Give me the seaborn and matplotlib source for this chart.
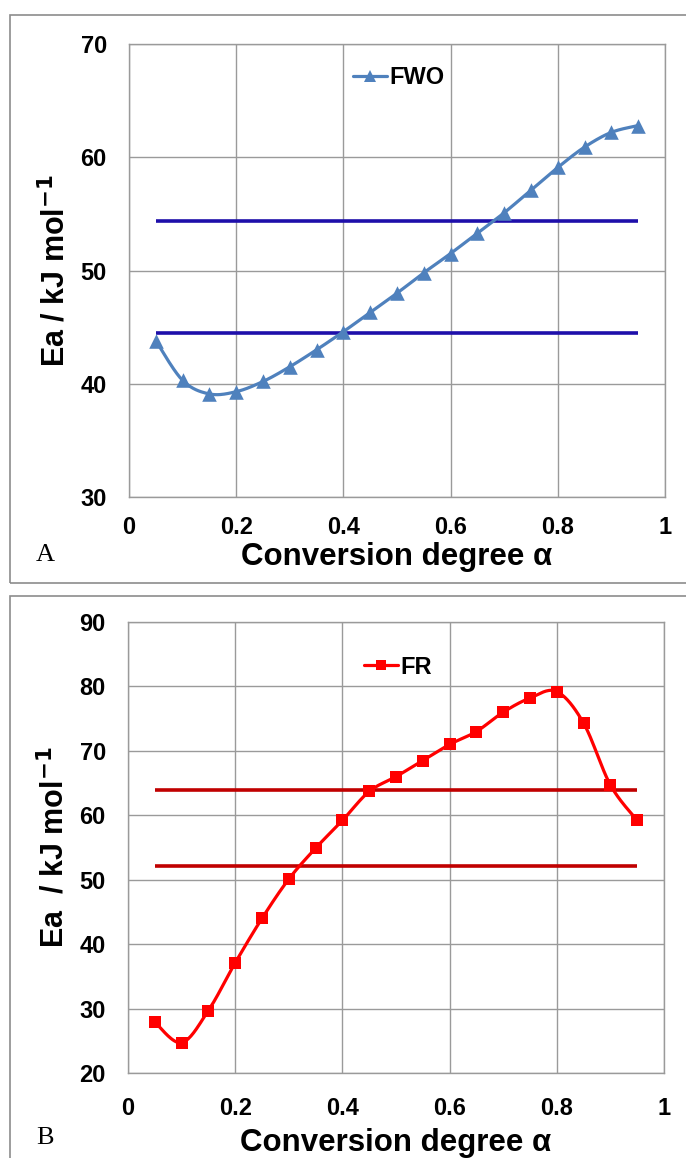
import numpy as np
import pandas as pd
import seaborn as sns
import matplotlib.pyplot as plt
from matplotlib.lines import Line2D
from matplotlib.patches import Rectangle

# conversion degree
alpha = [0.05, 0.10, 0.15, 0.20, 0.25, 0.30, 0.35, 0.40, 0.45, 0.50,
         0.55, 0.60, 0.65, 0.70, 0.75, 0.80, 0.85, 0.90, 0.95]

# activation energies, kJ/mol
ea_fwo = [43.8, 40.3, 39.1, 39.3, 40.2, 41.5, 43.0, 44.6, 46.3, 48.0,
          49.8, 51.5, 53.3, 55.1, 57.1, 59.1, 60.9, 62.2, 62.8]
ea_fr = [27.9, 24.7, 29.7, 37.1, 44.0, 50.1, 54.9, 59.2, 63.7, 66.0,
         68.5, 71.0, 73.0, 76.0, 78.2, 79.2, 74.3, 64.7, 59.2]

# horizontal reference levels
fwo_levels = [54.4, 44.5]
fr_levels = [63.9, 52.2]

x_ticks = [0, 0.2, 0.4, 0.6, 0.8, 1]
x_ticklabels = ["0", "0.2", "0.4", "0.6", "0.8", "1"]


def smooth(x, y, n=20):
    # excel-like smoothed line (catmull-rom through the points)
    p = np.column_stack([x, y])
    p = np.vstack([p[0], p, p[-1]])
    out = []
    t = np.linspace(0, 1, n, endpoint=False)[:, None]
    for i in range(1, len(p) - 2):
        p0, p1, p2, p3 = p[i - 1], p[i], p[i + 1], p[i + 2]
        c1 = p1 + (p2 - p0) / 6
        c2 = p2 - (p3 - p1) / 6
        out.append((1 - t) ** 3 * p1 + 3 * (1 - t) ** 2 * t * c1
                   + 3 * (1 - t) * t ** 2 * c2 + t ** 3 * p2)
    out.append(p[-2][None, :])
    out = np.vstack(out)
    return pd.DataFrame({"x": out[:, 0], "y": out[:, 1]})


sns.set_style("whitegrid")
plt.rcParams['font.family'] = ['Liberation Sans', 'DejaVu Sans']
plt.rcParams['text.color'] = 'black'
plt.rcParams['axes.labelcolor'] = 'black'
plt.rcParams['xtick.color'] = 'black'
plt.rcParams['ytick.color'] = 'black'

fig = plt.figure(figsize=(6.86, 11.58), dpi=100)
W, H = 686, 1158

# panel frames
for (x0, y0, x1, y1) in [(10, 15, 700, 583), (10, 596, 700, 1170)]:
    fig.patches.append(Rectangle((x0 / W, 1 - y1 / H), (x1 - x0) / W, (y1 - y0) / H,
                                 transform=fig.transFigure, fill=False,
                                 edgecolor="#8c8c8c", lw=1.2))

ax1 = fig.add_axes([129 / W, 1 - 497 / H, 536 / W, 453 / H])
ax2 = fig.add_axes([128 / W, 1 - 1073 / H, 536 / W, 451 / H])


def draw(ax, y, levels, color, lvl_color, marker, msize, lmsize, label, ylim,
         yticks, ylabel, leg_xy, xpad, xlabelpad):
    df = smooth(alpha, y)
    sns.lineplot(data=df, x="x", y="y", sort=False, ax=ax, color=color, lw=2.3,
                 zorder=3)
    sns.scatterplot(x=alpha, y=y, ax=ax, marker=marker, s=msize, color=color,
                    edgecolor=color, linewidth=0, zorder=4)
    ax.hlines(levels, alpha[0], alpha[-1], colors=lvl_color, lw=2.6, zorder=2)
    ax.set_xlim(0, 1)
    ax.set_ylim(*ylim)
    ax.set_xticks(x_ticks)
    ax.set_xticklabels(x_ticklabels)
    ax.set_yticks(yticks)
    ax.grid(True, color="#9a9a9a", lw=1.0)
    for s in ax.spines.values():
        s.set_color("#9a9a9a")
        s.set_linewidth(1.0)
    ax.tick_params(axis="both", direction="out", length=6, width=1,
                   color="#9a9a9a", labelsize=17)
    ax.tick_params(axis="y", pad=10)
    ax.tick_params(axis="x", pad=xpad)
    for t in ax.get_xticklabels() + ax.get_yticklabels():
        t.set_fontweight("bold")
    ax.set_xlabel("Conversion degree α", fontsize=22.5, fontweight="bold",
                  labelpad=xlabelpad)
    ax.set_ylabel(ylabel, fontsize=22, fontweight="bold", labelpad=6)
    h = Line2D([], [], color=color, lw=2.3, marker=marker, markersize=lmsize,
               markeredgewidth=0)
    ax.legend([h], [label], loc="center left", bbox_to_anchor=leg_xy,
              frameon=False, handlelength=1.45, handletextpad=0.1,
              borderpad=0, borderaxespad=0,
              prop={"weight": "bold", "size": 17})


draw(ax1, ea_fwo, fwo_levels, "#4F81BD", "#1E0FAA", "^", 110, 8, "FWO",
     (30, 70), [30, 40, 50, 60, 70], "Ea / kJ mol$^{\\mathbf{-1}}$",
     (0.418, 0.925), 8, 2)
draw(ax2, ea_fr, fr_levels, "#FF0000", "#C00000", "s", 80, 6.5, "FR",
     (20, 90), [20, 30, 40, 50, 60, 70, 80, 90], "Ea  / kJ mol$^{\\mathbf{-1}}$",
     (0.44, 0.90), 11, 6)

fig.text(36 / W, 1 - 555 / H, "A", family="Liberation Serif", fontsize=19,
         va="center")
fig.text(36 / W, 1 - 1138 / H, "B", family="Liberation Serif", fontsize=19,
         va="center")

fig.savefig("out.png", dpi=100)
